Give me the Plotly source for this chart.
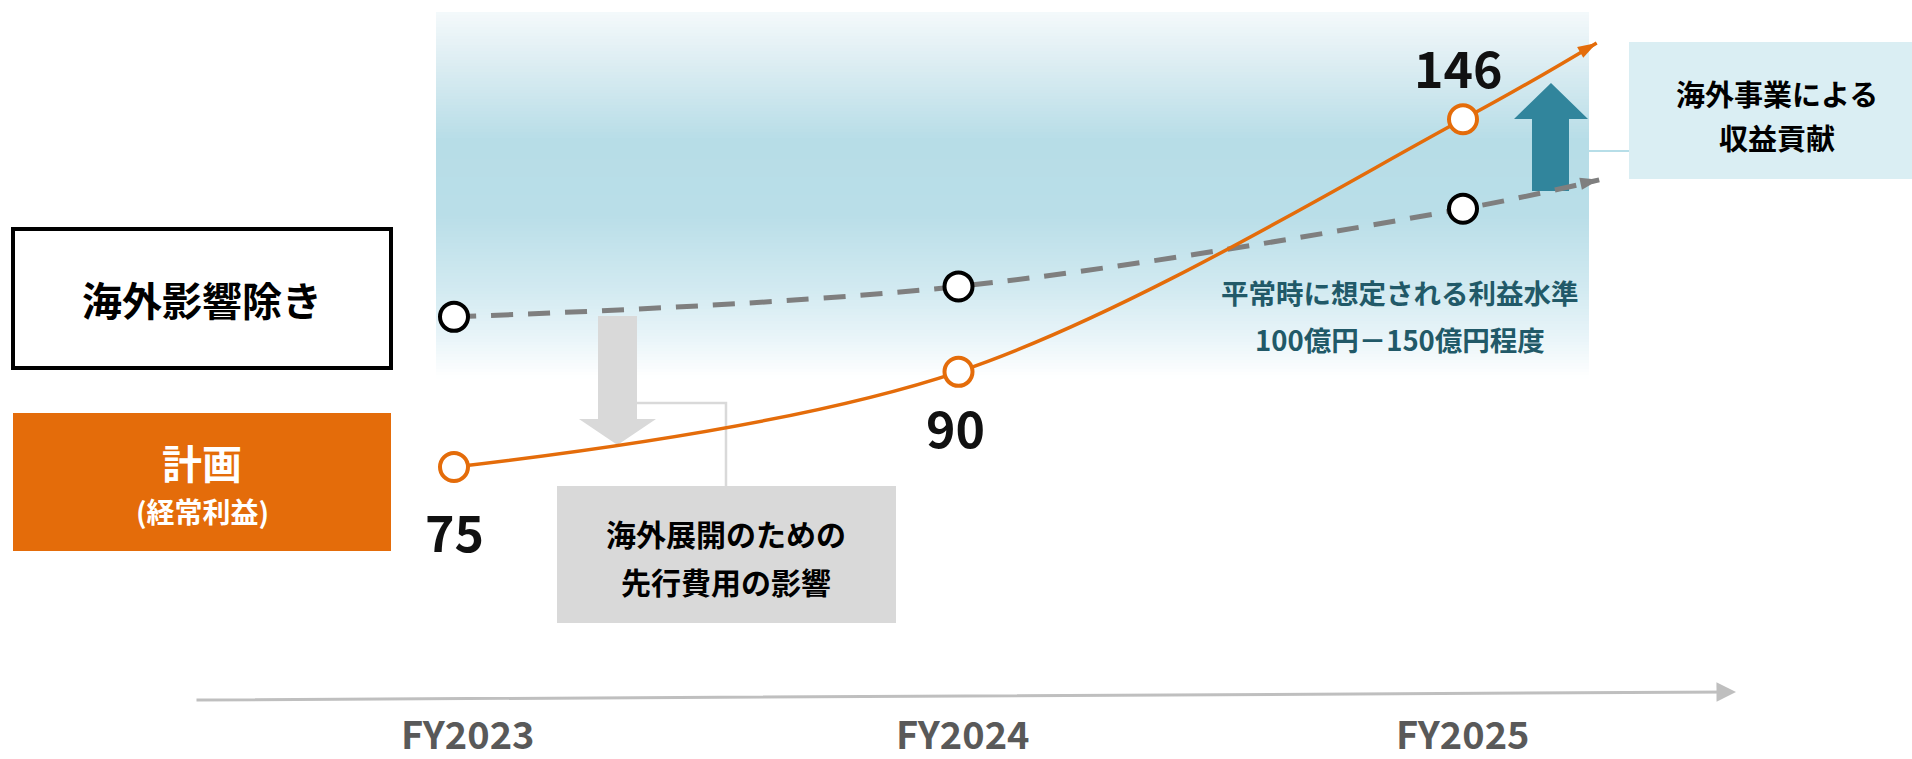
import math
import plotly.graph_objects as go

# ---------------- data ----------------
years = ["FY2023", "FY2024", "FY2025"]
plan_values = [75, 90, 146]             # 計画（経常利益）
plan_labels = ["75", "90", "146"]
ex_overseas_values = [100, 106, 123]    # 海外影響除き
plan_arrow_value = 169                  # orange trend arrow tip
ex_arrow_value = 130                    # grey trend arrow tip

# ---------------- layout constants ----------------
W, H = 1912, 759
FONT = "Noto Sans CJK JP"
ORANGE = "#E46C0A"
GREY_LINE = "#7F7F7F"
TEAL = "#31859C"
TEAL_TEXT = "#215968"
ARROW_EXT = 0.265          # how far the trend arrows run past FY2025 (in x units)
X_RANGE = [-0.8999, 2.8900]
Y_RANGE = [1.63214, 2.26358]  # log10 range

def px(x):
    return x / W

def py(y):
    return 1 - y / H

xs = list(range(len(years)))
n = len(xs)

fig = go.Figure()

def trend(values, tip_value, color, width, dash, ext):
    # line with an arrowhead at its end
    fig.add_trace(go.Scatter(
        x=xs + [xs[-1] + ext],
        y=values + [tip_value],
        mode="lines+markers",
        line=dict(color=color, width=width, dash=dash, shape="spline"),
        marker=dict(symbol="arrow", size=[0] * n + [20], color=color,
                    opacity=[0] * n + [1], angleref="previous", line=dict(width=0)),
        hoverinfo="skip", showlegend=False,
    ))

def points(values, outline):
    fig.add_trace(go.Scatter(
        x=xs, y=values, mode="markers",
        marker=dict(symbol="circle", size=28, color="white",
                    line=dict(color=outline, width=4)),
        hoverinfo="skip", showlegend=False,
    ))

trend(ex_overseas_values, ex_arrow_value, GREY_LINE, 5, "22px,15px", ARROW_EXT + 0.005)
trend(plan_values, plan_arrow_value, ORANGE, 3.5, "solid", ARROW_EXT)
points(ex_overseas_values, "#000000")
points(plan_values, ORANGE)

shapes = []

# gradient background band
def grad_color(y):
    stops = [(12, (244, 249, 251)), (60, (222, 238, 243)), (140, (183, 221, 231)),
             (215, (185, 222, 232)), (290, (210, 234, 241)), (340, (234, 245, 249)),
             (378, (255, 255, 255))]
    for (y0, c0), (y1, c1) in zip(stops[:-1], stops[1:]):
        if y0 <= y <= y1:
            t = (y - y0) / (y1 - y0)
            c = [round(a + (b - a) * t) for a, b in zip(c0, c1)]
            return "rgb(%d,%d,%d)" % tuple(c)
    return "white"

step = 3
yy = 12
while yy < 378:
    y2 = min(yy + step, 378)
    shapes.append(dict(type="rect", xref="paper", yref="paper",
                       x0=px(436), x1=px(1589), y0=py(y2 + 0.6), y1=py(yy),
                       fillcolor=grad_color((yy + y2) / 2), line=dict(width=0), layer="below"))
    yy = y2

# thin connector from band to right box
shapes.append(dict(type="line", xref="paper", yref="paper",
                   x0=px(1589), x1=px(1629), y0=py(151), y1=py(151),
                   line=dict(color="#B7DEE8", width=2), layer="below"))
# right box
shapes.append(dict(type="rect", xref="paper", yref="paper",
                   x0=px(1629), x1=px(1912), y0=py(179), y1=py(42),
                   fillcolor="#DAEEF3", line=dict(width=0), layer="below"))
# left legend boxes
shapes.append(dict(type="rect", xref="paper", yref="paper",
                   x0=px(13), x1=px(391), y0=py(368), y1=py(229),
                   fillcolor="white", line=dict(color="#000000", width=4), layer="below"))
shapes.append(dict(type="rect", xref="paper", yref="paper",
                   x0=px(13), x1=px(391), y0=py(551), y1=py(413),
                   fillcolor=ORANGE, line=dict(width=0), layer="below"))
# grey cost box
shapes.append(dict(type="rect", xref="paper", yref="paper",
                   x0=px(557), x1=px(896), y0=py(623), y1=py(486),
                   fillcolor="#D9D9D9", line=dict(width=0), layer="below"))
# grey connector
shapes.append(dict(type="path", xref="paper", yref="paper",
                   path="M %f,%f L %f,%f L %f,%f" % (px(637), py(403), px(726), py(403), px(726), py(486)),
                   line=dict(color="#D9D9D9", width=2.5), layer="below"))
# grey down arrow
pts = [(598, 316), (637, 316), (637, 419), (656, 419), (617.5, 445), (579, 419), (598, 419)]
shapes.append(dict(type="path", xref="paper", yref="paper",
                   path="M " + " L ".join("%f,%f" % (px(a), py(b)) for a, b in pts) + " Z",
                   fillcolor="#D9D9D9", line=dict(width=0), layer="below"))
# teal up arrow
pts = [(1532, 191), (1569, 191), (1569, 119), (1588, 119), (1551, 83), (1514, 119), (1532, 119)]
shapes.append(dict(type="path", xref="paper", yref="paper",
                   path="M " + " L ".join("%f,%f" % (px(a), py(b)) for a, b in pts) + " Z",
                   fillcolor=TEAL, line=dict(width=0), layer="below"))

annotations = []

def txt(text, x, y, size, color="#000000"):
    annotations.append(dict(text="<b>%s</b>" % text, xref="paper", yref="paper",
                            x=px(x), y=py(y), xanchor="center", yanchor="middle",
                            showarrow=False, font=dict(family=FONT, size=size, color=color)))

txt("海外影響除き", 202, 299, 40)
txt("計画", 202, 462, 40, "white")
txt("(経常利益)", 202, 511, 28, "white")
txt("海外展開のための", 726, 533, 30)
txt("先行費用の影響", 726, 581, 30)
txt("海外事業による", 1777, 93, 29)
txt("収益貢献", 1777, 137, 29)
txt("平常時に想定される利益水準", 1400, 292, 27.5, TEAL_TEXT)
txt("100億円－150億円程度", 1400, 339, 27.5, TEAL_TEXT)

# value labels on the plan line (log axis -> annotation y in log10 units)
label_shift = [(0, -63), (-3, -54), (-5, 53)]
for i, (lab, v) in enumerate(zip(plan_labels, plan_values)):
    annotations.append(dict(text="<b>%s</b>" % lab, x=xs[i], y=math.log10(v), xref="x", yref="y",
                            xshift=label_shift[i][0], yshift=label_shift[i][1],
                            xanchor="center", yanchor="middle", showarrow=False,
                            font=dict(family=FONT, size=50, color="#111111")))

# time axis arrow
annotations.append(dict(text="", xref="paper", yref="paper", x=px(1736), y=py(692),
                        axref="pixel", ayref="pixel", ax=195 - 1736, ay=700 - 692,
                        showarrow=True, arrowhead=2, arrowsize=1.3, arrowwidth=3,
                        arrowcolor="#BFBFBF", standoff=0, startstandoff=0))
# year labels
year_xshift = [14, 4, 0]
for i, yl in enumerate(years):
    annotations.append(dict(text="<b>%s</b>" % yl, x=xs[i], y=py(732), xref="x", yref="paper",
                            xshift=year_xshift[i], xanchor="center", yanchor="middle",
                            showarrow=False, font=dict(family=FONT, size=38, color="#595959")))

fig.update_layout(
    width=W, height=H, autosize=False,
    margin=dict(l=0, r=0, t=0, b=0, pad=0),
    paper_bgcolor="white", plot_bgcolor="white",
    xaxis=dict(range=X_RANGE, visible=False, fixedrange=True),
    yaxis=dict(type="log", range=Y_RANGE, visible=False, fixedrange=True),
    shapes=shapes, annotations=annotations, showlegend=False,
)

fig.write_html("out.html", config={"displayModeBar": False},
               post_script="document.body.style.margin='0';document.body.style.overflow='hidden';")
